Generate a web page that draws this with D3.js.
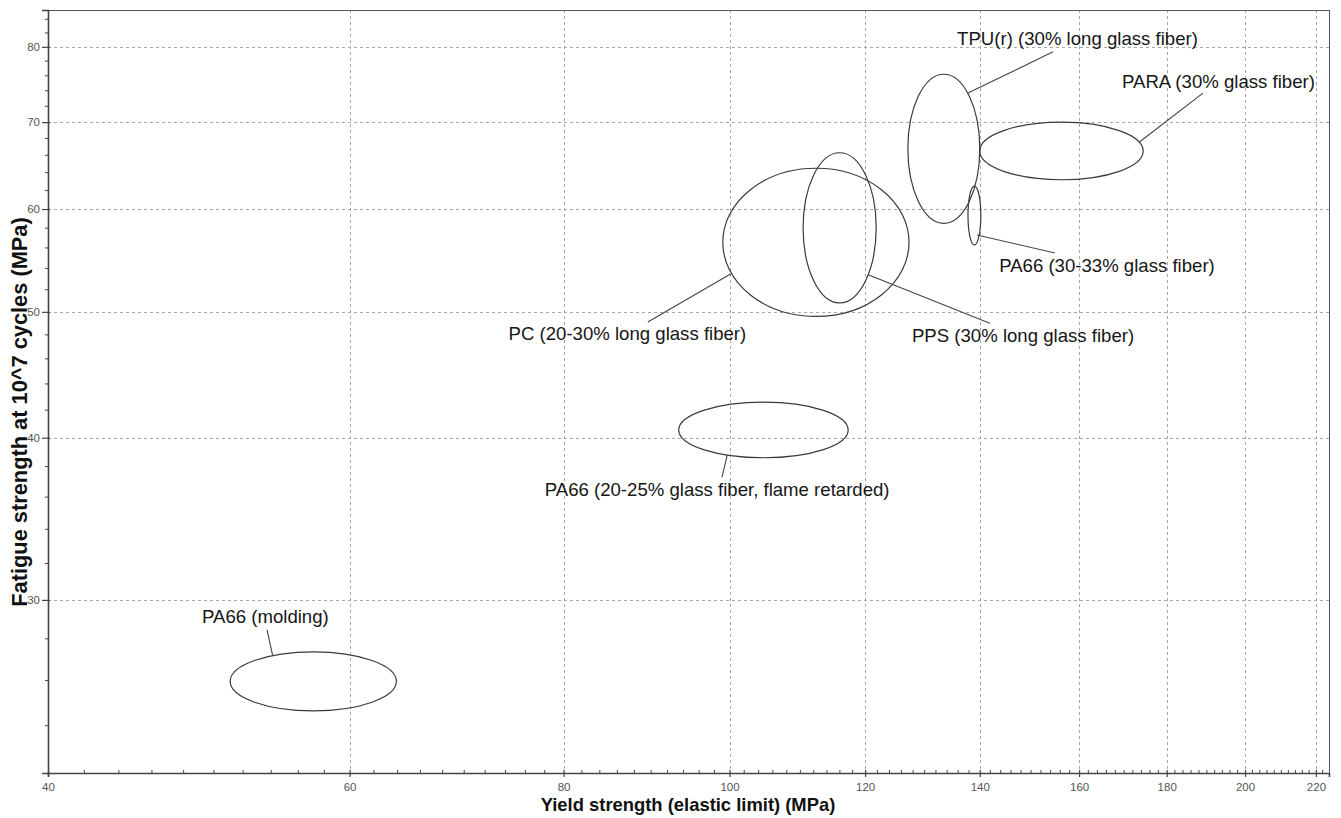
<!DOCTYPE html>
<html>
<head>
<meta charset="utf-8">
<script src="https://cdn.jsdelivr.net/npm/d3@7"></script>
<style>
  html, body { margin: 0; padding: 0; background: #fff; }
  svg { display: block; }
  text { font-family: "Liberation Sans", Arial, sans-serif; }
</style>
</head>
<body>
<svg id="chart" width="1341" height="818"></svg>
<script>
// ---- data (MPa) ----
const materials = [
  "PA66 (molding)",
  "PA66 (20-25% glass fiber, flame retarded)",
  "PC (20-30% long glass fiber)",
  "PPS (30% long glass fiber)",
  "TPU(r) (30% long glass fiber)",
  "PARA (30% glass fiber)",
  "PA66 (30-33% glass fiber)"
];
const yieldLow     = [51.1, 93.4,  99.1, 110.4, 127.1, 140.0, 137.8];
const yieldHigh    = [63.9, 117.3, 127.3, 121.8, 140.0, 174.4, 140.2];
const fatigueLow   = [24.64, 38.6, 49.6, 50.8, 58.5, 63.2, 56.3];
const fatigueHigh  = [27.36, 42.6, 64.5, 66.3, 76.2, 70.0, 62.5];

// label anchor (left edge, baseline) in data units
const labelX = [49.2, 78.0, 74.3, 127.8, 135.8, 169.5, 143.7];
const labelY = [28.8, 36.1, 47.6, 47.4, 80.3, 74.4, 53.7];
// leader lines: from ellipse edge to label, in data units
const leaderFromX = [54.1, 99.7, 100.2, 120.5, 137.8, 173.6, 139.5];
const leaderFromY = [27.2, 38.8, 53.5, 53.4, 73.7, 67.6, 57.3];
const leaderToX   = [53.7, 99.0, 89.6, 141.9, 154.5, 189.0, 154.9];
const leaderToY   = [28.45, 37.3, 49.1, 49.0, 79.3, 73.7, 55.5];

const xTicks = [40, 60, 80, 100, 120, 140, 160, 180, 200, 220];
const yTicks = [30, 40, 50, 60, 70, 80];
const xDomain = [40, 223.9];
const yDomain = [22.07, 85.4];
const xTitle = "Yield strength (elastic limit) (MPa)";
const yTitle = "Fatigue strength at 10^7 cycles (MPa)";

// ---- layout ----
const pLeft = 48, pRight = 1329, pTop = 10, pBottom = 773;
const svg = d3.select("#chart");
const x = d3.scaleLog().domain(xDomain).range([pLeft, pRight]);
const y = d3.scaleLog().domain(yDomain).range([pBottom, pTop]);

const xMinor = d3.range(42, 224, 2).filter(v => !xTicks.includes(v));
const yMinor = d3.range(24, 86, 2).filter(v => !yTicks.includes(v));

// grid
const grid = svg.append("g").attr("stroke", "#a8a8a8").attr("stroke-width", 1)
  .attr("stroke-dasharray", "3,3").attr("fill", "none");
grid.selectAll("line.vx").data(xTicks.filter(v => v > xDomain[0])).join("line")
  .attr("x1", d => Math.round(x(d)) + 0.5).attr("x2", d => Math.round(x(d)) + 0.5)
  .attr("y1", pTop).attr("y2", pBottom);
grid.selectAll("line.hy").data(yTicks).join("line")
  .attr("y1", d => Math.round(y(d)) + 0.5).attr("y2", d => Math.round(y(d)) + 0.5)
  .attr("x1", pLeft).attr("x2", pRight);

// frame top/right
svg.append("line").attr("x1", pLeft).attr("x2", pRight + 0.5).attr("y1", pTop + 0.5).attr("y2", pTop + 0.5)
  .attr("stroke", "#555").attr("stroke-width", 1);
svg.append("line").attr("x1", pRight + 0.5).attr("x2", pRight + 0.5).attr("y1", pTop).attr("y2", pBottom)
  .attr("stroke", "#555").attr("stroke-width", 1);

// axes
const xAxis = d3.axisBottom(x).tickValues(xTicks).tickFormat(d3.format("d")).tickSize(4).tickPadding(6);
const gx = svg.append("g").attr("transform", `translate(0,${pBottom})`).call(xAxis);
const yAxis = d3.axisLeft(y).tickValues(yTicks).tickFormat(d3.format("d")).tickSize(6).tickPadding(2);
const gy = svg.append("g").attr("transform", `translate(${pLeft},0)`).call(yAxis);
[gx, gy].forEach(g => {
  g.select(".domain").attr("stroke", "#444").attr("stroke-width", 1.6);
  g.selectAll(".tick line").attr("stroke", "#444").attr("stroke-width", 1.2);
  g.selectAll(".tick text").attr("fill", "#555").attr("font-size", 11.5)
    .attr("font-family", "'Liberation Sans', Arial, sans-serif");
});
gx.selectAll(".tick line").attr("y1", -3);
gy.selectAll(".tick line").attr("x1", 2);

// minor ticks (inward)
svg.append("g").attr("stroke", "#444").attr("stroke-width", 1)
  .selectAll("line").data(xMinor).join("line")
  .attr("x1", d => x(d)).attr("x2", d => x(d)).attr("y1", pBottom).attr("y2", pBottom - 3);
svg.append("g").attr("stroke", "#444").attr("stroke-width", 1)
  .selectAll("line").data(yMinor).join("line")
  .attr("y1", d => y(d)).attr("y2", d => y(d)).attr("x1", pLeft - 3).attr("x2", pLeft + 1);

// ellipses
const idx = d3.range(materials.length);
svg.append("g").selectAll("ellipse").data(idx).join("ellipse")
  .attr("cx", i => (x(yieldLow[i]) + x(yieldHigh[i])) / 2)
  .attr("cy", i => (y(fatigueLow[i]) + y(fatigueHigh[i])) / 2)
  .attr("rx", i => (x(yieldHigh[i]) - x(yieldLow[i])) / 2)
  .attr("ry", i => (y(fatigueLow[i]) - y(fatigueHigh[i])) / 2)
  .attr("fill", "none").attr("stroke", "#3a3a3a").attr("stroke-width", 1.2);

// leaders
svg.append("g").selectAll("line").data(idx).join("line")
  .attr("x1", i => x(leaderFromX[i])).attr("y1", i => y(leaderFromY[i]))
  .attr("x2", i => x(leaderToX[i])).attr("y2", i => y(leaderToY[i]))
  .attr("stroke", "#444").attr("stroke-width", 1.1);

// labels
svg.append("g").selectAll("text").data(idx).join("text")
  .attr("x", i => x(labelX[i])).attr("y", i => y(labelY[i]))
  .attr("font-size", 18.6).attr("fill", "#161616")
  .text(i => materials[i]);

// titles
svg.append("text").attr("x", 688).attr("y", 811).attr("text-anchor", "middle")
  .attr("font-size", 18.4).attr("font-weight", "bold").attr("fill", "#111").text(xTitle);
svg.append("text").attr("transform", "translate(27,412) rotate(-90)").attr("text-anchor", "middle")
  .attr("font-size", 21.8).attr("font-weight", "bold").attr("fill", "#111").text(yTitle);
</script>
</body>
</html>
